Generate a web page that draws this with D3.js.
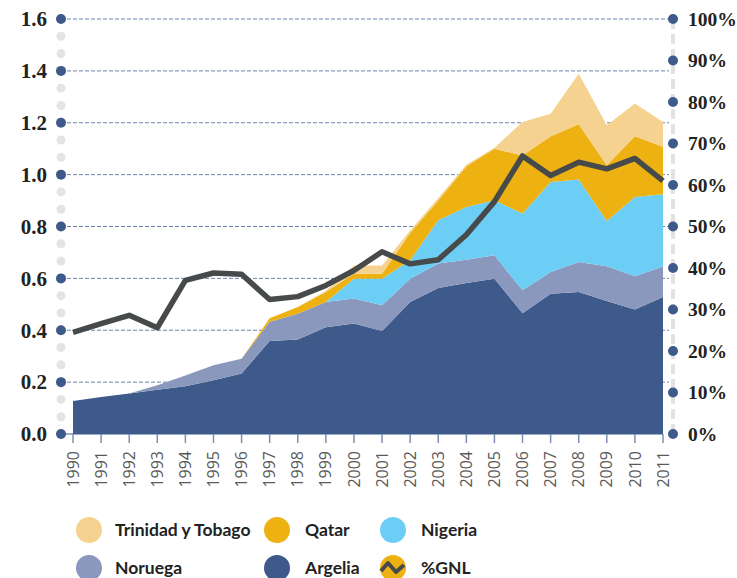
<!DOCTYPE html>
<html>
<head>
<meta charset="utf-8">
<script src="https://cdn.jsdelivr.net/npm/d3@7"></script>
<style>
  body { margin: 0; background: #fff; }
  svg { display: block; }
</style>
</head>
<body>
<div id="chart"></div>
<script>
// Données (unités de l'axe gauche)
const years = [1990, 1991, 1992, 1993, 1994, 1995, 1996, 1997, 1998, 1999, 2000,
               2001, 2002, 2003, 2004, 2005, 2006, 2007, 2008, 2009, 2010, 2011];

const argelia  = [0.127, 0.143, 0.156, 0.171, 0.184, 0.207, 0.233, 0.359, 0.364, 0.412, 0.426,
                  0.397, 0.509, 0.563, 0.582, 0.599, 0.466, 0.541, 0.547, 0.513, 0.480, 0.528];
const noruega  = [0, 0, 0, 0.017, 0.042, 0.058, 0.057, 0.074, 0.100, 0.097, 0.096,
                  0.099, 0.090, 0.094, 0.090, 0.090, 0.088, 0.084, 0.116, 0.134, 0.128, 0.118];
const nigeria  = [0, 0, 0, 0, 0, 0, 0, 0, 0, 0, 0.077,
                  0.103, 0.071, 0.167, 0.203, 0.212, 0.296, 0.347, 0.318, 0.174, 0.306, 0.278];
const qatar    = [0, 0, 0, 0, 0, 0, 0, 0.013, 0.026, 0.038, 0.019,
                  0.019, 0.105, 0.076, 0.157, 0.199, 0.224, 0.176, 0.213, 0.215, 0.234, 0.183];
const trinidad = [0, 0, 0, 0, 0, 0, 0, 0, 0, 0.005, 0.032,
                  0.032, 0.010, 0.010, 0.006, 0.004, 0.129, 0.087, 0.195, 0.154, 0.126, 0.096];

// Part du GNL (%) sur l'axe droit
const gnl = [24.5, 26.6, 28.6, 25.6, 37.0, 38.8, 38.5, 32.4, 33.1, 35.8, 39.4,
             43.9, 41.0, 42.0, 48.0, 56.0, 67.0, 62.3, 65.5, 63.9, 66.4, 61.0];

const leftTicks = [0, 0.2, 0.4, 0.6, 0.8, 1.0, 1.2, 1.4, 1.6];
const rightTicks = [0, 10, 20, 30, 40, 50, 60, 70, 80, 90, 100];

const seriesKeys = ['Argelia', 'Noruega', 'Nigeria', 'Qatar', 'Trinidad y Tobago'];
const seriesData = [argelia, noruega, nigeria, qatar, trinidad];
const colors = {
    'Argelia': '#3d5a8a',
    'Noruega': '#8a98bd',
    'Nigeria': '#6dcef5',
    'Qatar': '#edb112',
    'Trinidad y Tobago': '#f5d28f'
};

const width = 737;
const height = 578;
const leftAxisX = 61;
const rightAxisX = 673;

const svg = d3.select('#chart')
    .append('svg')
    .attr('width', width)
    .attr('height', height);

const x = d3.scaleLinear().domain([1990, 2011]).range([73, 663]);
const y = d3.scaleLinear().domain([0, 1.6]).range([434, 19]);
const yPct = d3.scaleLinear().domain([0, 100]).range([434, 19]);

// Tableau pour d3.stack
const table = years.map((yr, i) => {
    const row = { year: yr };
    seriesKeys.forEach((k, j) => { row[k] = seriesData[j][i]; });
    return row;
});

// Lignes de grille pointillées (sous les aires)
svg.append('g')
    .selectAll('line')
    .data(leftTicks.filter(t => t > 0))
    .enter()
    .append('line')
    .attr('x1', leftAxisX)
    .attr('x2', rightAxisX - 4)
    .attr('y1', d => y(d))
    .attr('y2', d => y(d))
    .style('stroke', '#4a6596')
    .style('stroke-opacity', 0.8)
    .style('stroke-width', 1)
    .style('stroke-dasharray', '4,2');

// Axe des x : ligne + graduations
svg.append('line')
    .attr('x1', leftAxisX)
    .attr('x2', x(2011))
    .attr('y1', y(0))
    .attr('y2', y(0))
    .style('stroke', '#7d90b5')
    .style('stroke-width', 1.5);

svg.append('g')
    .selectAll('line')
    .data(years)
    .enter()
    .append('line')
    .attr('x1', d => x(d))
    .attr('x2', d => x(d))
    .attr('y1', y(0))
    .attr('y2', y(0) + 9)
    .style('stroke', '#7d90b5')
    .style('stroke-width', 1.5);

svg.append('g')
    .selectAll('text')
    .data(years)
    .enter()
    .append('text')
    .attr('transform', d => `translate(${x(d)},${y(0) + 17}) rotate(-90)`)
    .attr('text-anchor', 'end')
    .attr('dy', '0.35em')
    .style('font-family', 'Open Sans, sans-serif')
    .style('font-size', '16px')
    .style('fill', '#5a5a5a')
    .text(d => d);

// Aires empilées
const stacked = d3.stack().keys(seriesKeys)(table);

const area = d3.area()
    .x(d => x(d.data.year))
    .y0(d => y(d[0]))
    .y1(d => y(d[1]));

svg.append('g')
    .selectAll('path')
    .data(stacked)
    .enter()
    .append('path')
    .attr('d', area)
    .style('fill', d => colors[d.key]);

// Ligne %GNL
const line = d3.line()
    .x((d, i) => x(years[i]))
    .y(d => yPct(d));

svg.append('path')
    .datum(gnl)
    .attr('d', line)
    .style('fill', 'none')
    .style('stroke', '#464a4b')
    .style('stroke-width', 5.5)
    .style('stroke-linejoin', 'round');

// Axe gauche : points gris intermédiaires + points bleus
const minorDots = [];
leftTicks.slice(0, -1).forEach(t => {
    minorDots.push(t + 0.2 / 3, t + 0.4 / 3);
});

svg.append('g')
    .selectAll('circle')
    .data(minorDots)
    .enter()
    .append('circle')
    .attr('cx', leftAxisX)
    .attr('cy', d => y(d))
    .attr('r', 4.5)
    .style('fill', '#e4e4e4');

svg.append('g')
    .selectAll('circle')
    .data(leftTicks)
    .enter()
    .append('circle')
    .attr('cx', leftAxisX)
    .attr('cy', d => y(d))
    .attr('r', 5)
    .style('fill', '#3d5a8a');

svg.append('g')
    .selectAll('text')
    .data(leftTicks)
    .enter()
    .append('text')
    .attr('x', 47)
    .attr('y', d => y(d))
    .attr('dy', '0.35em')
    .attr('text-anchor', 'end')
    .style('font-family', 'Liberation Serif, serif')
    .style('font-weight', 'bold')
    .style('font-size', '21px')
    .style('fill', '#222')
    .text(d => d.toFixed(1));

// Axe droit : trait gris en tirets + points bleus
svg.append('line')
    .attr('x1', rightAxisX)
    .attr('x2', rightAxisX)
    .attr('y1', yPct(100))
    .attr('y2', yPct(0))
    .style('stroke', '#e2e2e2')
    .style('stroke-width', 4)
    .style('stroke-dasharray', '10,5');

svg.append('g')
    .selectAll('circle')
    .data(rightTicks)
    .enter()
    .append('circle')
    .attr('cx', rightAxisX)
    .attr('cy', d => yPct(d))
    .attr('r', 5)
    .style('fill', '#3d5a8a');

svg.append('g')
    .selectAll('text')
    .data(rightTicks)
    .enter()
    .append('text')
    .attr('x', 688)
    .attr('y', d => yPct(d))
    .attr('dy', '0.35em')
    .style('font-family', 'Liberation Serif, serif')
    .style('font-weight', 'bold')
    .style('font-size', '19.5px')
    .style('fill', '#222')
    .text(d => d + '%');

// Légende
const legendItems = [
    { label: 'Trinidad y Tobago', color: colors['Trinidad y Tobago'], cx: 89, cy: 530 },
    { label: 'Qatar', color: colors['Qatar'], cx: 277, cy: 530 },
    { label: 'Nigeria', color: colors['Nigeria'], cx: 393, cy: 530 },
    { label: 'Noruega', color: colors['Noruega'], cx: 89, cy: 568 },
    { label: 'Argelia', color: colors['Argelia'], cx: 277, cy: 568 },
    { label: '%GNL', color: colors['Qatar'], cx: 393, cy: 568, isLine: true }
];

const legend = svg.append('g')
    .selectAll('g')
    .data(legendItems)
    .enter()
    .append('g')
    .attr('transform', d => `translate(${d.cx},${d.cy})`);

legend.append('circle')
    .attr('r', 13)
    .style('fill', d => d.color);

legend.filter(d => d.isLine)
    .append('polyline')
    .attr('points', '-12,3 -5,-5 3,4 11,-3')
    .style('fill', 'none')
    .style('stroke', '#464a4b')
    .style('stroke-width', 4)
    .style('stroke-linejoin', 'round');

legend.append('text')
    .attr('x', d => d.cx === 89 ? 26 : 28)
    .attr('dy', '0.35em')
    .style('font-family', 'Lato, sans-serif')
    .style('font-weight', 'bold')
    .style('font-size', '17.5px')
    .style('fill', '#222')
    .text(d => d.label);
</script>
</body>
</html>
